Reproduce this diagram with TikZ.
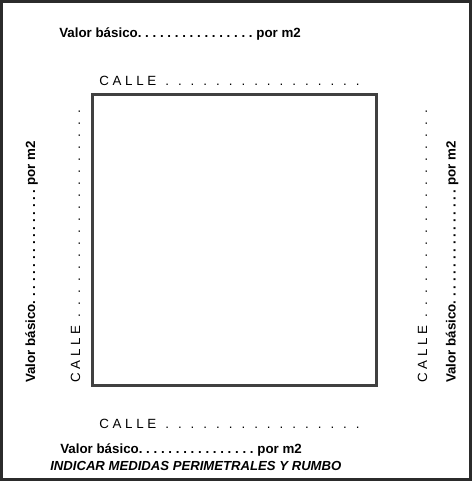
\documentclass[tikz,border=0pt]{standalone}
\usepackage{fontspec}
\setmainfont{Liberation Sans}
\newlength{\du}
\setlength{\du}{0.75pt}
\definecolor{marcocolor}{rgb}{0.17,0.17,0.17}
\definecolor{lotecolor}{rgb}{0.25,0.25,0.25}
\newcommand{\puntos}[2]{\foreach \n in {1,...,#1}{\hspace{#2}.}}
\frenchspacing
\begin{document}
\begin{tikzpicture}[x=\du,y=-\du,
  texto/.style={inner sep=0pt,anchor=base west,font=\fontsize{10pt}{12pt}\selectfont},
  valor/.style={texto,font=\fontsize{10pt}{12pt}\selectfont\bfseries},
  calle/.style={texto},
  nota/.style={texto,font=\fontsize{9.85pt}{12pt}\selectfont\bfseries\itshape},
  vertical/.style={rotate=90}]
\useasboundingbox (0,0) rectangle (472,481);
% marco
\draw[marcocolor,line width=3\du] (1.5,1.5) rectangle (470.5,479.5);
% lote
\draw[lotecolor,line width=2.5\du] (92.5,94.5) rectangle (376.5,385.5);
% arriba
\node[valor] (valorN) at (59,38) {Valor básico. . . . . . . . . . . . . . . . por m2};
\node[calle] (calleN) at (99,85.3) {C A L L E\puntos{16}{6.75pt}};
% abajo
\node[calle] (calleS) at (99,428.3) {C A L L E\puntos{16}{6.75pt}};
\node[valor] (valorS) at (60,453.3) {Valor básico. . . . . . . . . . . . . . . . por m2};
\node[nota] (nota) at (50,470) {INDICAR MEDIDAS PERIMETRALES Y RUMBO};
% izquierda
\node[valor,vertical] (valorO) at (35,383) {Valor básico. . . . . . . . . . . . . . . . por m2};
\node[calle,vertical] (calleO) at (80,383) {C A L L E\puntos{18}{6.2pt}};
% derecha
\node[calle,vertical] (calleE) at (427,383) {C A L L E\puntos{18}{6.2pt}};
\node[valor,vertical] (valorE) at (455.5,383) {Valor básico. . . . . . . . . . . . . . . . por m2};
\end{tikzpicture}
\end{document}
